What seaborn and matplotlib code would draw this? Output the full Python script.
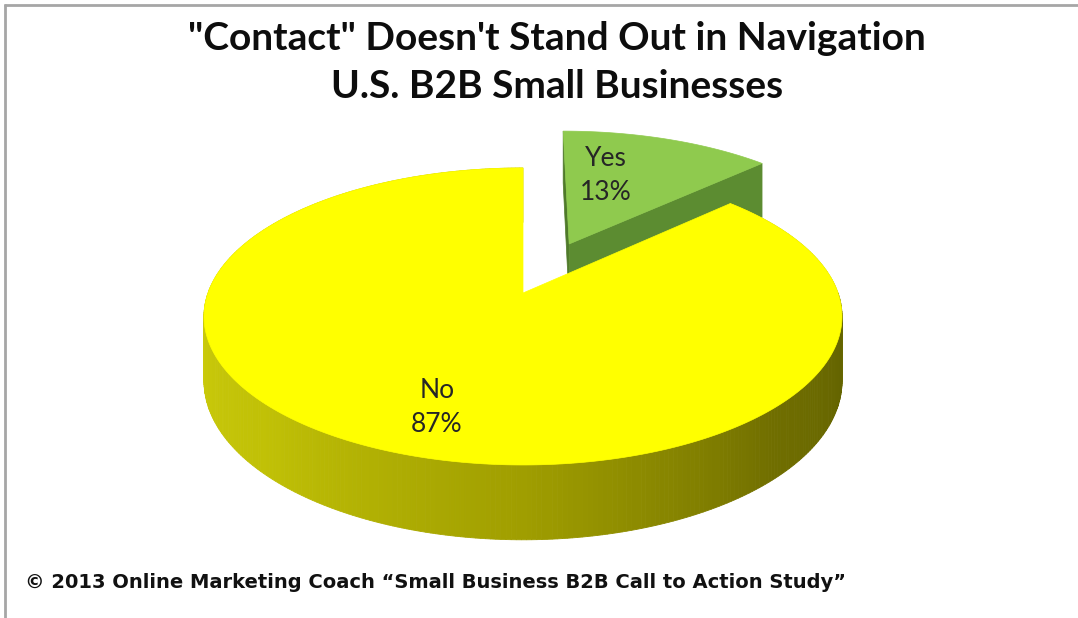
import numpy as np
import matplotlib
matplotlib.use("Agg")
import matplotlib.pyplot as plt
import seaborn as sns
from matplotlib.patches import Polygon

# Survey result: does "Contact" stand out in the site navigation?
labels = ["Yes", "No"]
shares = [13, 87]              # percent of respondents
explode = [0.39, 0.0]          # radial offset of each slice (unit radius)

title_lines = ["\"Contact\" Doesn't Stand Out in Navigation", "U.S. B2B Small Businesses"]
source_note = "\u00a9 2013 Online Marketing Coach \u201cSmall Business B2B Call to Action Study\u201d"

top_colors = ["#8fca4e", "#ffff00"]
side_colors = ["#5c8c31", None]

sns.set_theme(style="white")
plt.rcParams["font.family"] = ["Lato", "DejaVu Sans"]

fig = plt.figure(figsize=(10.78, 6.18), dpi=100)
ax = fig.add_axes([0, 0, 1, 1])
ax.set_xlim(0, 1078)
ax.set_ylim(618, 0)
ax.axis("off")

# --- simple perspective projection of a tilted disk -------------------------
X0, Y0 = 523.0, 293.0      # projected centre of the pie
A, B = 315.0, 144.8        # horizontal / vertical radius scale
P = 0.158                  # perspective foreshortening
DEPTH = 63.0               # thickness of the pie


def proj(u, v, z=0.0):
    s = 1.0 / (1.0 + P * v)
    return X0 + A * u * s, Y0 - B * v * s + DEPTH * z * s


def rim(theta_deg, off):
    t = np.radians(theta_deg)
    return off[0] + np.cos(t), off[1] + np.sin(t)


def yellow_side_shade(theta):
    th = theta % 360
    keys = [90, 180, 225, 270, 315, 345, 360, 450]
    r = [200, 205, 192, 160, 112, 100, 118, 200]
    g = [200, 205, 192, 158, 110, 100, 116, 200]
    b = [10, 12, 6, 0, 0, 0, 8, 10]
    return (np.interp(th, keys, r) / 255, np.interp(th, keys, g) / 255,
            np.interp(th, keys, b) / 255)


# slice angles: start at 12 o'clock and run clockwise
angles = np.array(shares) / sum(shares) * 360.0
starts = 90.0 - np.concatenate([[0], np.cumsum(angles)[:-1]])
ends = starts - angles

offsets = []
for st, en, ex in zip(starts, ends, explode):
    mid = np.radians((st + en) / 2.0)
    offsets.append((ex * np.cos(mid), ex * np.sin(mid)))

# ---- "Yes" slice (behind) ----
i = 0
off = offsets[i]
st, en = starts[i], ends[i]
# left cut face (at start angle)
pu, pv = rim(st, off)
face = [proj(off[0], off[1], 0), proj(pu, pv, 0), proj(pu, pv, 1), proj(off[0], off[1], 1)]
ax.add_patch(Polygon(face, closed=True, facecolor="#4f7a2a", edgecolor="#4f7a2a", lw=0.5))
# right cut face (at end angle)
pu, pv = rim(en, off)
face = [proj(off[0], off[1], 0), proj(pu, pv, 0), proj(pu, pv, 1), proj(off[0], off[1], 1)]
ax.add_patch(Polygon(face, closed=True, facecolor=side_colors[i], edgecolor=side_colors[i], lw=0.5))
# top face
th = np.linspace(st, en, 80)
pts = [proj(off[0], off[1], 0)] + [proj(*rim(t, off), 0) for t in th]
ax.add_patch(Polygon(pts, closed=True, facecolor=top_colors[i], edgecolor=top_colors[i], lw=0.5))

# ---- "No" slice (front) ----
i = 1
off = offsets[i]
st, en = starts[i], ends[i]
th = np.linspace(en, st, 400)          # counter-clockwise around the big slice
strips = []
for t0, t1 in zip(th[:-1], th[1:]):
    u0, v0 = rim(t0, off)
    u1, v1 = rim(t1, off)
    quad = [proj(u0, v0, 0), proj(u1, v1, 0), proj(u1, v1, 1), proj(u0, v0, 1)]
    strips.append(((v0 + v1) / 2.0, quad, yellow_side_shade((t0 + t1) / 2.0)))
for _, quad, col in sorted(strips, key=lambda s: -s[0]):
    ax.add_patch(Polygon(quad, closed=True, facecolor=col, edgecolor=col, lw=0.6))
pts = [proj(off[0], off[1], 0)] + [proj(*rim(t, off), 0) for t in th]
ax.add_patch(Polygon(pts, closed=True, facecolor=top_colors[i], edgecolor=top_colors[i], lw=0.5))

# ---- data labels ----
label_pos = [(606, 175), (437, 407)]
for lab, val, (lx, ly) in zip(labels, shares, label_pos):
    ax.text(lx, ly, f"{lab}\n{val}%", ha="center", va="center", fontsize=19,
            color="#262626", linespacing=1.45)

# ---- titles and source ----
ax.text(557, 38, title_lines[0], ha="center", va="center", fontsize=28,
        fontweight="bold", color="#0d0d0d")
ax.text(557, 86, title_lines[1], ha="center", va="center", fontsize=28,
        fontweight="bold", color="#0d0d0d")
ax.text(25, 582, source_note, ha="left", va="center", fontsize=14,
        fontweight="bold", color="#111111", family=["DejaVu Sans"])

# chart frame (top and left edges)
ax.plot([4, 1078], [4.5, 4.5], color="#a6a6a6", lw=2, solid_capstyle="butt")
ax.plot([4.5, 4.5], [4, 618], color="#a6a6a6", lw=2, solid_capstyle="butt")

fig.savefig("out.png", dpi=100, facecolor="white")
